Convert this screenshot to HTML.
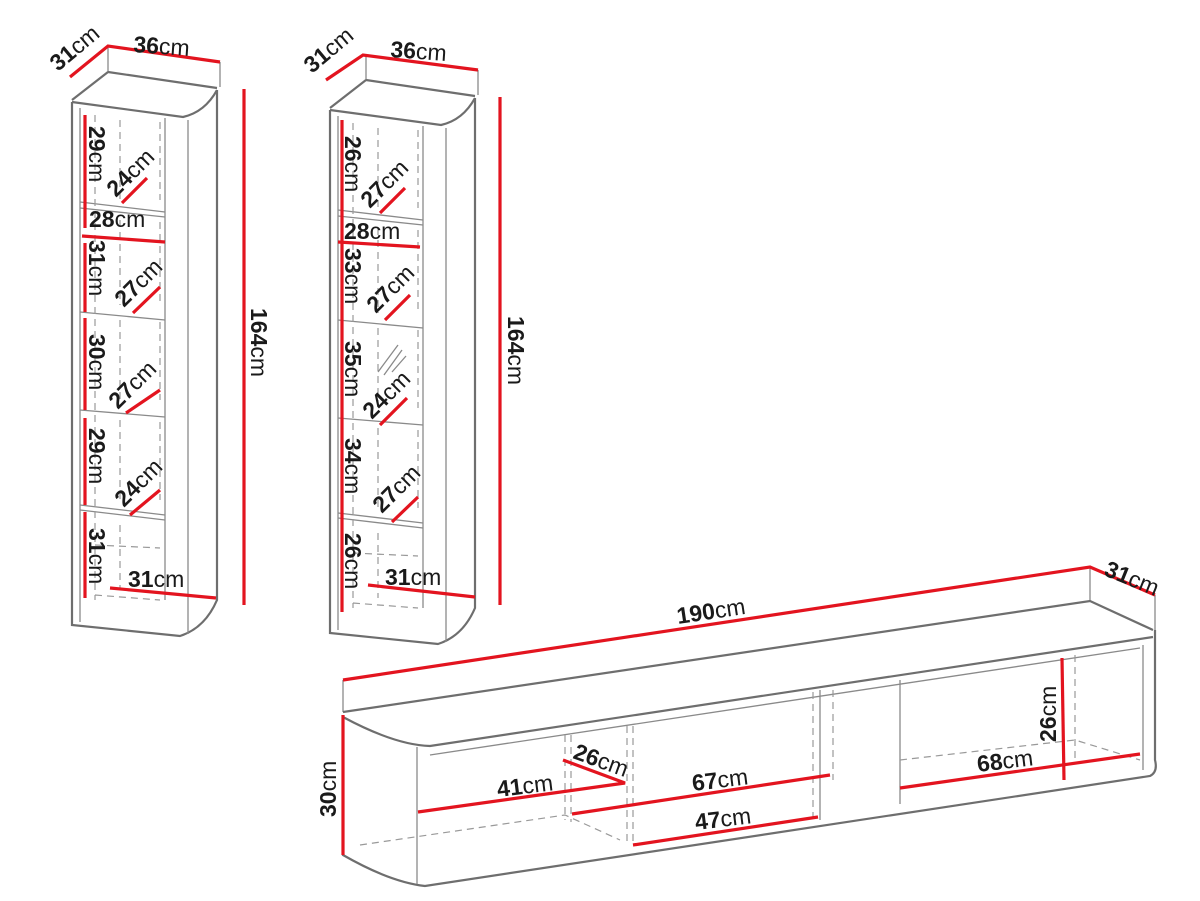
<!DOCTYPE html>
<html><head><meta charset="utf-8"><style>
html,body{margin:0;padding:0;background:#fff;}
svg{display:block;}
text{font-family:"Liberation Sans",sans-serif;font-size:23px;fill:#1a1a1a;}
.b{font-weight:bold;}
.g{stroke:#6e6e6e;stroke-width:2.2;fill:none;}
.gt{stroke:#8a8a8a;stroke-width:1.3;fill:none;}
.d{stroke:#999;stroke-width:1.2;fill:none;stroke-dasharray:7 5;}
.r{stroke:#e3141f;stroke-width:3.2;fill:none;}
</style></head><body>
<svg width="1200" height="901" viewBox="0 0 1200 901" xmlns="http://www.w3.org/2000/svg">
<defs>
<g id="cab">
  <path class="gt" d="M108,46 V72 M220,62 V87"/>
  <path class="g" d="M108,72 L217,88 M108,72 L72,100"/>
  <path class="g" d="M72,102 L183,117 Q205,112 217,90"/>
  <path class="g" d="M72,102 V625 L180,636 Q205,628 217,600 V90"/>
  <path class="gt" d="M188,120 V634 M80,108 V622 M165,118 V600"/>
  <path class="gt" d="M80,202 L165,212 M80,208 L165,217 M80,312 L165,320 M80,410 L165,417 M80,505 L165,515 M80,510 L165,520"/>
  <path class="d" d="M95,115 V600 M120,120 V200 M160,122 V200 M120,220 V305 M160,222 V305 M120,320 V400 M160,322 V400 M120,420 V500 M160,422 V500 M120,525 V590 M95,545 L160,548 M95,595 L160,600"/>
</g>
</defs>
<use href="#cab"/>
<use href="#cab" transform="translate(258,8)"/>

<!-- left cabinet reds -->
<path class="r" d="M70,77 L108,46 L220,62"/>
<path class="r" d="M244,89 V605"/>
<path class="r" d="M85,115 V228 M85,243 V312 M85,318 V410 M85,418 V505 M85,512 V598"/>
<path class="r" d="M82,236 L165,242"/>
<path class="r" d="M122,203 L147,178 M133,313 L160,287 M126,413 L160,390 M130,515 L160,490"/>
<path class="r" d="M110,588 L216,598"/>
<text transform="translate(58,72) rotate(-40)"><tspan class="b">31</tspan>cm</text>
<text transform="translate(133,52) rotate(4)"><tspan class="b">36</tspan>cm</text>
<text transform="translate(251,308) rotate(90)"><tspan class="b">164</tspan>cm</text>
<text transform="translate(89,126) rotate(90)"><tspan class="b">29</tspan>cm</text>
<text transform="translate(116,198) rotate(-45)"><tspan class="b">24</tspan>cm</text>
<text x="89" y="227"><tspan class="b">28</tspan>cm</text>
<text transform="translate(89,240) rotate(90)"><tspan class="b">31</tspan>cm</text>
<text transform="translate(124,308) rotate(-45)"><tspan class="b">27</tspan>cm</text>
<text transform="translate(89,334) rotate(90)"><tspan class="b">30</tspan>cm</text>
<text transform="translate(118,410) rotate(-45)"><tspan class="b">27</tspan>cm</text>
<text transform="translate(89,428) rotate(90)"><tspan class="b">29</tspan>cm</text>
<text transform="translate(124,508) rotate(-45)"><tspan class="b">24</tspan>cm</text>
<text transform="translate(89,528) rotate(90)"><tspan class="b">31</tspan>cm</text>
<text x="128" y="587"><tspan class="b">31</tspan>cm</text>

<!-- middle cabinet reds -->
<path class="r" d="M326,80 L363,55 L478,70"/>
<path class="r" d="M500,97 V605"/>
<path class="r" d="M342,120 V612"/>
<path class="r" d="M338,242 L420,247"/>
<path class="r" d="M380,213 L405,188 M385,320 L410,295 M380,425 L407,398 M392,522 L418,497"/>
<path class="r" d="M368,585 L475,597"/>
<path class="gt" d="M378,372 L398,345 M384,375 L402,350 M392,372 L406,356"/>
<text transform="translate(312,74) rotate(-40)"><tspan class="b">31</tspan>cm</text>
<text transform="translate(390,57) rotate(4)"><tspan class="b">36</tspan>cm</text>
<text transform="translate(508,316) rotate(90)"><tspan class="b">164</tspan>cm</text>
<text transform="translate(345,136) rotate(90)"><tspan class="b">26</tspan>cm</text>
<text transform="translate(370,209) rotate(-45)"><tspan class="b">27</tspan>cm</text>
<text x="344" y="239"><tspan class="b">28</tspan>cm</text>
<text transform="translate(345,248) rotate(90)"><tspan class="b">33</tspan>cm</text>
<text transform="translate(376,314) rotate(-45)"><tspan class="b">27</tspan>cm</text>
<text transform="translate(345,341) rotate(90)"><tspan class="b">35</tspan>cm</text>
<text transform="translate(372,420) rotate(-45)"><tspan class="b">24</tspan>cm</text>
<text transform="translate(345,438) rotate(90)"><tspan class="b">34</tspan>cm</text>
<text transform="translate(382,514) rotate(-45)"><tspan class="b">27</tspan>cm</text>
<text transform="translate(345,533) rotate(90)"><tspan class="b">26</tspan>cm</text>
<text x="385" y="585"><tspan class="b">31</tspan>cm</text>

<!-- TV unit -->
<path class="gt" d="M343,680 V712 M1090,567 V601 M1155,595 V630"/>
<path class="g" d="M343,712 L1090,601 L1153,630"/>
<path class="g" d="M343,717 Q395,745 430,746 L1153,637"/>
<path class="g" d="M343,717 V855 Q390,882 425,886 L1150,776 Q1158,772 1155,760 V630"/>
<path class="gt" d="M417,747 V884 M820,690 V820 M900,680 V804 M1143,645 V770 M430,755 L1140,648"/>
<path class="d" d="M565,735 V820 M571,735 V822 M627,726 V842 M633,726 V843 M813,692 V818 M833,690 V780 M1075,655 V760 M360,845 L565,815 L620,840 M900,760 L1075,740 L1140,760"/>
<path class="r" d="M343,680 L1090,567 L1155,595"/>
<path class="r" d="M343,715 V855"/>
<path class="r" d="M418,812 L625,783 L563,760"/>
<path class="r" d="M572,814 L830,775"/>
<path class="r" d="M633,845 L818,817"/>
<path class="r" d="M900,788 L1140,754"/>
<path class="r" d="M1062,658 L1064,780"/>
<text transform="translate(678,624) rotate(-8.5)"><tspan class="b">190</tspan>cm</text>
<text transform="translate(1103,575) rotate(22)"><tspan class="b">31</tspan>cm</text>
<text transform="translate(336,817) rotate(-90)"><tspan class="b">30</tspan>cm</text>
<text transform="translate(498,797) rotate(-7)"><tspan class="b">41</tspan>cm</text>
<text transform="translate(572,758) rotate(20)"><tspan class="b">26</tspan>cm</text>
<text transform="translate(693,791) rotate(-7)"><tspan class="b">67</tspan>cm</text>
<text transform="translate(696,830) rotate(-7)"><tspan class="b">47</tspan>cm</text>
<text transform="translate(978,772) rotate(-7)"><tspan class="b">68</tspan>cm</text>
<text transform="translate(1056,742) rotate(-90)"><tspan class="b">26</tspan>cm</text>
</svg>
</body></html>
